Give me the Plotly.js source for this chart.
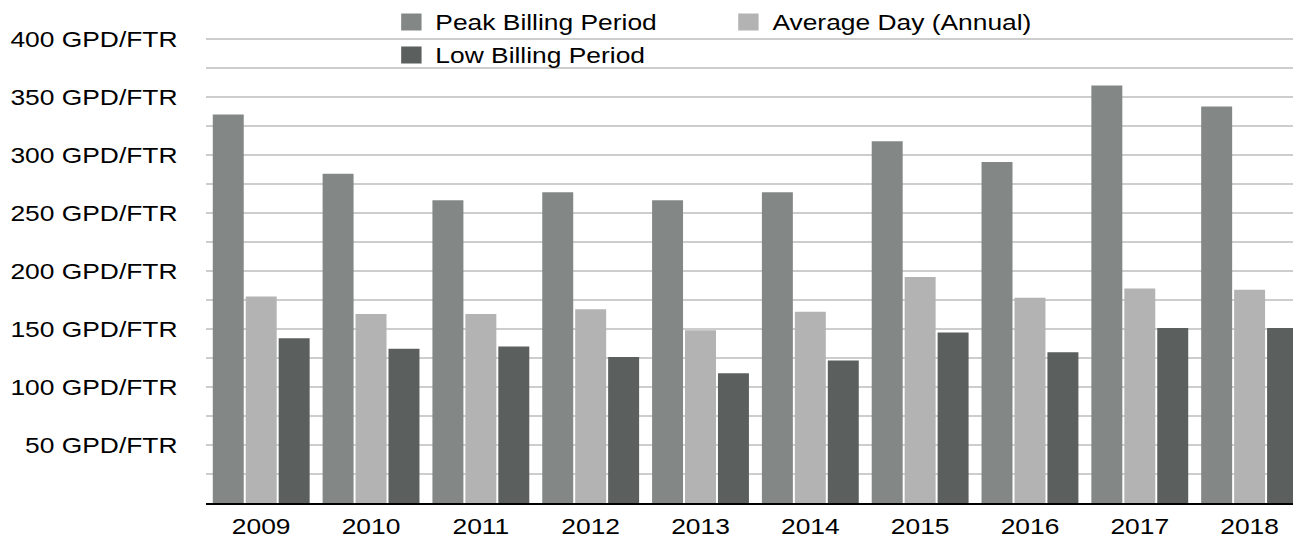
<!DOCTYPE html>
<html>
<head>
<meta charset="utf-8">
<script src="https://cdn.plot.ly/plotly-3.0.1.min.js"></script>
<style>
  html, body { margin: 0; padding: 0; background: #ffffff; overflow: hidden; }
  #wrap { width: 1293px; height: 541px; overflow: hidden; }
  #chart { width: 1078px; height: 541px; transform: scaleX(1.19944); transform-origin: 0 0; }
</style>
</head>
<body>
<div id="wrap"><div id="chart"></div></div>
<script>
// ---- data ----
const years = ['2009', '2010', '2011', '2012', '2013', '2014', '2015', '2016', '2017', '2018'];
const peakBilling = [335, 284, 261, 268, 261, 268, 312, 294, 360, 342];
const averageDay  = [178, 163, 163, 167, 149, 165, 195, 177, 185, 184];
const lowBilling  = [142, 133, 135, 126, 112, 123, 147, 130, 151, 151];
const seriesNames = ['Peak Billing Period', 'Average Day (Annual)', 'Low Billing Period'];
const yTickValues = [25, 50, 75, 100, 125, 150, 175, 200, 225, 250, 275, 300, 325, 350, 375, 400];
const yLabelledValues = [50, 100, 150, 200, 250, 300, 350, 400];
const yUnit = 'GPD/FTR';

const yTickText = yTickValues.map(v => yLabelledValues.includes(v) ? (v + ' ' + yUnit) : '');

const FONT = '"Liberation Sans", Arial, Helvetica, sans-serif';
const colors = ['#838886', '#b3b3b3', '#5b5f5d'];
const seriesValues = [peakBilling, averageDay, lowBilling];
const legendIds = ['legend', 'legend', 'legend2'];

const traces = [];
// real bars (legend handled by the entries below)
seriesValues.forEach((vals, i) => {
  traces.push({
    type: 'bar', x: years, y: vals, name: seriesNames[i],
    marker: { color: colors[i] }, offsetgroup: 'g' + i, showlegend: false
  });
});
// legend entries (same series, larger swatch)
seriesNames.forEach((nm, i) => {
  traces.push({
    type: 'bar', x: [null], y: [null], name: nm,
    marker: { color: colors[i], line: { color: colors[i], width: 5 } },
    offsetgroup: 'g' + i, legend: legendIds[i], showlegend: true
  });
});

const layout = {
  width: 1078,
  height: 541,
  margin: { l: 171.75, r: 0, t: 15.8, b: 38, autoexpand: false },
  paper_bgcolor: '#ffffff',
  plot_bgcolor: '#ffffff',
  font: { family: FONT, size: 22, color: '#000000' },
  barmode: 'group',
  bargap: 0.1,
  bargroupgap: 0.06,
  hovermode: false,
  showlegend: true,
  legend: {
    orientation: 'h',
    xref: 'container', yref: 'container',
    x: 0.2996, y: 0.998, xanchor: 'left', yanchor: 'top',
    entrywidth: 236, entrywidthmode: 'pixels',
    bgcolor: 'rgba(0,0,0,0)',
    font: { family: FONT, size: 22, color: '#000000' }
  },
  legend2: {
    orientation: 'h',
    xref: 'container', yref: 'container',
    x: 0.2996, y: 0.937, xanchor: 'left', yanchor: 'top',
    bgcolor: 'rgba(0,0,0,0)',
    font: { family: FONT, size: 22, color: '#000000' }
  },
  xaxis: {
    type: 'category',
    range: [-0.5, 9.395],
    showline: true, linecolor: '#000000', linewidth: 2,
    showgrid: false, zeroline: false,
    ticks: '',
    ticklabelstandoff: 3,
    tickfont: { family: FONT, size: 22, color: '#000000' },
    fixedrange: true
  },
  yaxis: {
    range: [0, 420],
    tickmode: 'array',
    tickvals: yTickValues,
    ticktext: yTickText,
    showgrid: true, gridcolor: '#cdcdcd', gridwidth: 1.5,
    zeroline: false, showline: false,
    ticks: '',
    ticklabelstandoff: 23,
    tickfont: { family: FONT, size: 22, color: '#000000' },
    fixedrange: true
  }
};

Plotly.newPlot('chart', traces, layout, { displayModeBar: false, staticPlot: true });
</script>
</body>
</html>
